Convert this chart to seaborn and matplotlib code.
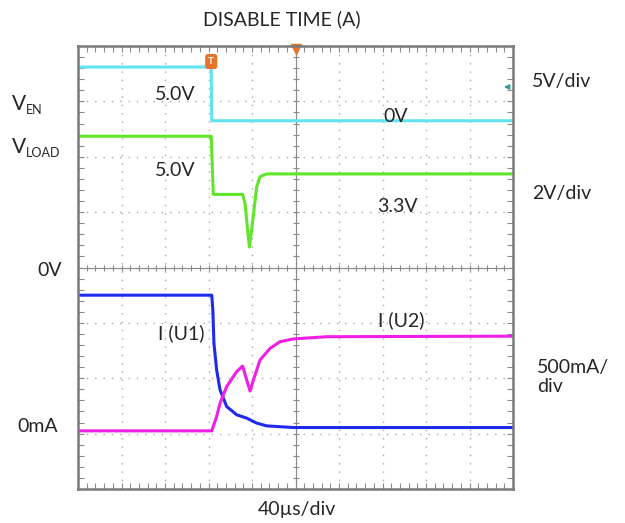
import numpy as np
import pandas as pd
import seaborn as sns
import matplotlib.pyplot as plt

W, H = 625, 523

# time axis in microseconds (40 us/div, 10 div), values in screen divisions
ven_t = [0, 122.5, 123.0, 400]
ven_y = [3.62, 3.62, 2.65, 2.65]

vload_t = [0, 122.5, 124.4, 151.4, 153.6, 156.6, 157.6, 159.7, 164.3, 167.4, 173.5, 400]
vload_y = [2.37, 2.37, 1.32, 1.32, 1.16, 0.55, 0.37, 0.68, 1.46, 1.64, 1.69, 1.69]

iu1_t = [0, 123.0, 124.0, 125.0, 127.5, 130.6, 136.7, 145.9, 155.1, 164.3, 173.5, 198.0, 400]
iu1_y = [-0.50, -0.50, -0.77, -1.37, -1.85, -2.21, -2.51, -2.66, -2.72, -2.81, -2.86, -2.89, -2.89]

iu2_t = [0, 123.0, 127.5, 130.6, 136.7, 145.9, 151.4, 155.1, 158.2, 161.3, 167.4, 176.6, 185.7, 198.0, 228.7, 400]
iu2_y = [-2.95, -2.95, -2.69, -2.45, -2.15, -1.88, -1.78, -2.03, -2.23, -2.03, -1.67, -1.46, -1.34, -1.29, -1.25, -1.24]

trace_names = ['VEN', 'VLOAD', 'IU1', 'IU2']
trace_colors = ['#62E3F2', '#5FE62A', '#1E2BEF', '#F01EE6']


def fx(px):
    return px / W


def fy(py):
    return 1 - py / H


def main():
    sns.set_style('white')
    plt.rcParams['font.family'] = ['Lato', 'DejaVu Sans']

    df = pd.concat([
        pd.DataFrame({'t': ven_t, 'y': ven_y, 'trace': 'VEN'}),
        pd.DataFrame({'t': vload_t, 'y': vload_y, 'trace': 'VLOAD'}),
        pd.DataFrame({'t': iu1_t, 'y': iu1_y, 'trace': 'IU1'}),
        pd.DataFrame({'t': iu2_t, 'y': iu2_y, 'trace': 'IU2'}),
    ], ignore_index=True)

    fig = plt.figure(figsize=(W / 100, H / 100), dpi=100)
    ax = fig.add_axes([fx(78), fy(489), 435 / W, 443 / H])

    grey = '#8a8a8a'
    ax.set_xlim(0, 400)
    ax.set_ylim(-4, 4)
    ax.set_xticks(np.arange(0, 401, 40))
    ax.set_yticks(np.arange(-4, 5, 1))
    ax.set_xticks(np.arange(0, 401, 8), minor=True)
    ax.set_yticks(np.arange(-4, 4.01, 0.2), minor=True)
    ax.tick_params(which='both', direction='in', top=True, right=True, bottom=True, left=True,
                   length=4, width=0.8, color=grey, labelbottom=False, labelleft=False)
    ax.grid(which='major', color='#a8a8a8', linestyle=(0, (1, 5)), linewidth=1.0)
    for s in ax.spines.values():
        s.set_color('#7a7a7a')
        s.set_linewidth(1.8)

    # centre cross with small ticks
    ax.axhline(0, color=grey, lw=0.8)
    ax.axvline(200, color=grey, lw=0.8)
    ax.plot(np.arange(0, 401, 8), np.zeros(51), ls='none', marker='|', ms=5, color=grey, mew=0.8)
    ax.plot(np.full(41, 200), np.arange(-4, 4.01, 0.2), ls='none', marker='_', ms=5, color=grey, mew=0.8)

    sns.lineplot(data=df, x='t', y='y', hue='trace', hue_order=trace_names,
                 palette=trace_colors, estimator=None, sort=False, linewidth=2.2,
                 legend=False, ax=ax)
    ax.set_xlabel('')
    ax.set_ylabel('')

    # scope markers
    orange = '#E8742A'
    ax.text(122.5, 3.72, 'T', color='white', fontsize=7, fontweight='bold', ha='center', va='center',
            bbox=dict(boxstyle='round,pad=0.25', fc=orange, ec=orange))
    ax.plot(200, 3.94, marker='v', ms=7, color=orange, clip_on=False)
    ax.annotate('', xy=(389, 3.26), xytext=(399, 3.26),
                arrowprops=dict(arrowstyle='-|>', color='#2E9C9E', lw=1.2, mutation_scale=7))

    fs = 14
    fig.text(fx(282), fy(19), 'DISABLE TIME (A)', fontsize=fs, ha='center', va='center')
    fig.text(fx(12), fy(110), 'V', fontsize=fs + 1, ha='left', va='baseline')
    fig.text(fx(26), fy(114), 'EN', fontsize=9, ha='left', va='baseline')
    fig.text(fx(12), fy(153), 'V', fontsize=fs + 1, ha='left', va='baseline')
    fig.text(fx(26), fy(157), 'LOAD', fontsize=9, ha='left', va='baseline')
    fig.text(fx(50), fy(270), '0V', fontsize=fs, ha='center', va='center')
    fig.text(fx(38), fy(427), '0mA', fontsize=fs, ha='center', va='center')

    fig.text(fx(175), fy(95), '5.0V', fontsize=fs, ha='center', va='center')
    fig.text(fx(175), fy(170), '5.0V', fontsize=fs, ha='center', va='center')
    fig.text(fx(396), fy(116), '0V', fontsize=fs, ha='center', va='center')
    fig.text(fx(397), fy(207), '3.3V', fontsize=fs, ha='center', va='center')
    fig.text(fx(181), fy(333), 'I (U1)', fontsize=fs, ha='center', va='center')
    fig.text(fx(401), fy(320), 'I (U2)', fontsize=fs, ha='center', va='center')

    fig.text(fx(532), fy(82), '5V/div', fontsize=fs, ha='left', va='center')
    fig.text(fx(532), fy(194), '2V/div', fontsize=fs, ha='left', va='center')
    fig.text(fx(537), fy(377), '500mA/\ndiv', fontsize=fs, ha='left', va='center', linespacing=1.1)
    fig.text(fx(297), fy(510), '40\u00b5s/div', fontsize=fs, ha='center', va='center')

    fig.savefig('out.png', dpi=100)


if __name__ == '__main__':
    main()
